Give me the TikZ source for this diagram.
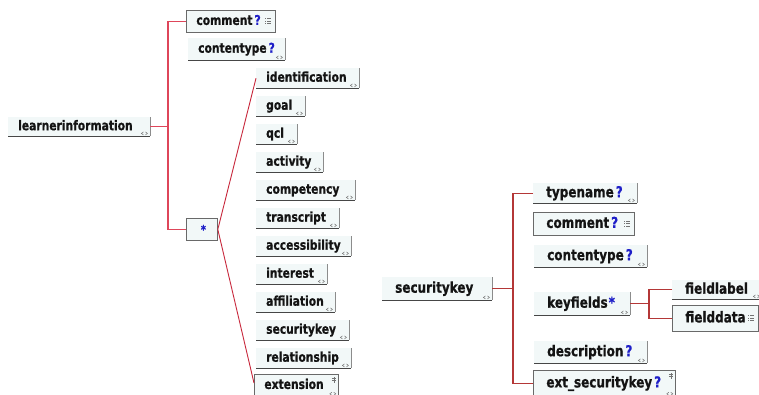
\documentclass[tikz,border=0pt]{standalone}
\usepackage{fontspec}
\usetikzlibrary{calc}
\newfontfamily\boxfont{DejaVu Sans}[FakeStretch=0.8, BoldFeatures={FakeBold=0.8}]

\definecolor{boxfill}{RGB}{242,248,248}
\definecolor{textc}{RGB}{20,20,20}
\definecolor{qblue}{RGB}{30,30,200}
\definecolor{edgec}{RGB}{70,70,70}
\definecolor{sidec}{RGB}{140,140,140}
\definecolor{framec}{RGB}{105,105,105}
\definecolor{conL}{RGB}{222,70,90}
\definecolor{fanc}{RGB}{200,40,60}
\definecolor{conR}{RGB}{180,55,55}
\definecolor{iconc}{RGB}{115,115,115}

\newcommand{\qm}{\kern2pt\textcolor{qblue}{?}}
\newcommand{\rep}{\kern1pt\textcolor{qblue}{*}}

\tikzset{
  boxbase/.style={fill=boxfill, anchor=north west, inner ysep=0pt, align=left, text=textc},
  lsize/.style={inner xsep=10pt, font=\boxfont\bfseries\fontsize{13.4}{15}\selectfont,
                text height=9pt, text depth=2pt},
  rsize/.style={inner xsep=13pt, font=\boxfont\bfseries\fontsize{15}{17}\selectfont,
                text height=10pt, text depth=2pt},
  lw/.code={\pgfmathsetlengthmacro\bwtmp{#1-20}\pgfkeysalso{text width=\bwtmp}},
  rw/.code={\pgfmathsetlengthmacro\bwtmp{#1-26}\pgfkeysalso{text width=\bwtmp}},
  botline/.style={draw=edgec, line width=0.9pt},
  sidel/.style={draw=sidec, line width=0.8pt},
  edged/.style={append after command={
      (\tikzlastnode.south west) edge[botline] (\tikzlastnode.south east)
      (\tikzlastnode.north east) edge[sidel] (\tikzlastnode.south east)}},
  framed/.style={draw=framec, line width=0.8pt},
  lbox/.style={boxbase, lsize, edged},
  lfbox/.style={boxbase, lsize, framed},
  rbox/.style={boxbase, rsize, edged},
  rfbox/.style={boxbase, rsize, framed},
  conleft/.style={draw=conL, line width=1.4pt},
  fanline/.style={draw=fanc, line width=0.9pt},
  conright/.style={draw=conR, line width=1.4pt},
  icon/.style={draw=iconc, line width=0.5pt},
  % small double-chevron in a box corner
  chev/.pic={
    \draw[icon] (-7,-4.5) -- (-9,-3) -- (-7,-1.5);
    \draw[icon] (-5,-4.5) -- (-3,-3) -- (-5,-1.5);
  },
  % small mixed-content grid mark
  gridmark/.pic={
    \fill[iconc] (-11,-3) rectangle (-9.5,-2);
    \fill[iconc] (-8.5,-3) rectangle (-5,-2);
    \fill[iconc] (-11,-0.5) rectangle (-9.5,0.5);
    \fill[iconc] (-8.5,-0.5) rectangle (-5,0.5);
    \fill[iconc] (-11,2) rectangle (-9.5,3);
    \fill[iconc] (-8.5,2) rectangle (-5,3);
  },
  % small wildcard mark at the top corner
  anymark/.pic={
    \draw[icon] (-5,3) -- (-5,9);
    \draw[icon] (-7,4) -- (-3,4);
    \draw[icon] (-7,6.5) -- (-3,6.5);
  }
}

\begin{document}
\begin{tikzpicture}[x=1pt,y=-1pt]
\useasboundingbox (0,0) rectangle (759,394);
\fill[white] (0,0) rectangle (759,394);

% ---- learnerinformation tree
\node[lbox, lw=142, minimum height=19] (li) at (8,117) {learnerinformation};
\node[lfbox, lw=89, minimum height=22] (cm1) at (186,10) {comment\qm};
\node[lbox, lw=97, minimum height=22] (ct1) at (188,38) {contentype\qm};
\node[boxbase, framed, minimum width=31, minimum height=22, inner sep=0pt,
      font=\boxfont\bfseries\fontsize{12}{14}\selectfont] (star) at (186,218)
      {\kern3pt\raisebox{-3pt}{\textcolor{qblue}{*}}};

\node[lbox, lw=103, minimum height=20] (id)    at (256,68)  {identification};
\node[lbox, lw=49,  minimum height=20] (goal)  at (256,96)  {goal};
\node[lbox, lw=41,  minimum height=20] (qcl)   at (256,124) {qcl};
\node[lbox, lw=67,  minimum height=20] (act)   at (256,152) {activity};
\node[lbox, lw=99,  minimum height=20] (comp)  at (256,180) {competency};
\node[lbox, lw=83,  minimum height=20] (trans) at (256,208) {transcript};
\node[lbox, lw=95,  minimum height=20] (acc)   at (256,236) {accessibility};
\node[lbox, lw=71,  minimum height=20] (int)   at (256,264) {interest};
\node[lbox, lw=79,  minimum height=20] (aff)   at (256,292) {affiliation};
\node[lbox, lw=93,  minimum height=20] (skl)   at (256,320) {securitykey};
\node[lbox, lw=95,  minimum height=20] (rel)   at (256,348) {relationship};
\node[lfbox, lw=84, minimum height=22] (ext)   at (254,374) {extension};

\coordinate (busL) at (168,126);
\draw[conleft] (li.east) -- (li.east -| busL);
\draw[conleft] (cm1.west) -| (busL) |- (star.west);
\draw[fanline] (star.east) -- (id.west);
\draw[fanline] (star.east) -- ($(ext.north west)+(0,9)$);

% ---- securitykey tree
\node[rbox, rw=110, minimum height=23] (sk)   at (382,277) {securitykey};
\node[rbox, rw=104, minimum height=20] (tn)   at (533,183) {typename\qm};
\node[rfbox, rw=101, minimum height=23] (cm2) at (533,212) {comment\qm};
\node[rbox, rw=113, minimum height=22] (ct2)  at (534,245) {contentype\qm};
\node[rbox, rw=96,  minimum height=23] (kf)   at (534,292) {keyfields\rep};
\node[rbox, rw=90,  minimum height=19] (fl)   at (672,280) {fieldlabel};
\node[rfbox, rw=86, minimum height=26] (fd)   at (672,305) {fielddata};
\node[rbox, rw=113, minimum height=22] (ds)   at (534,341) {description\qm};
\node[rfbox, rw=142, minimum height=26] (ext2) at (533,370) {ext\_securitykey\qm};

\coordinate (busR) at (513,287);
\draw[conright] (sk.east) -- (sk.east -| busR);
\draw[conright] (tn.west) -| (busR) |- (ext2.west);
\coordinate (busK) at (649,303);
\draw[conright] (kf.east) -- (kf.east -| busK);
\draw[conright] (fl.west) -| (busK) |- (fd.west);

% ---- corner marks
\foreach \n in {li,ct1,id,goal,qcl,act,comp,trans,acc,int,aff,skl,rel,ext,
                sk,tn,ct2,kf,fl,ds,ext2}
  \pic at (\n.south east) {chev};
\foreach \n in {cm1,cm2,fd}
  \pic at (\n.east) {gridmark};
\foreach \n in {ext,ext2}
  \pic at (\n.north east) {anymark};
\end{tikzpicture}
\end{document}
